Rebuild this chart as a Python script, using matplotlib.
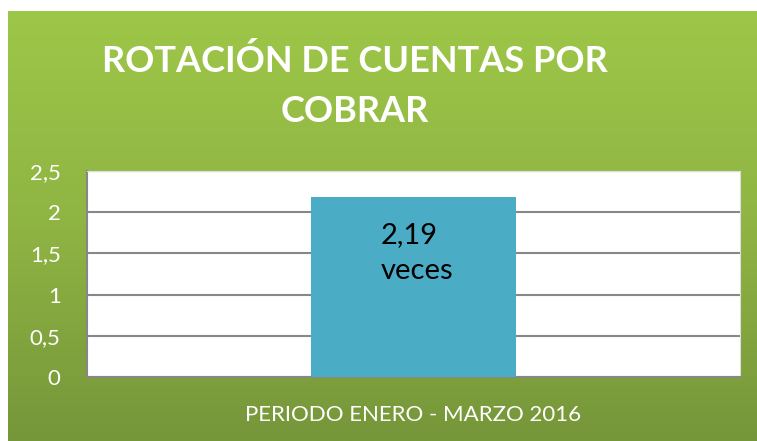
import matplotlib.pyplot as plt
import numpy as np
from matplotlib.colors import LinearSegmentedColormap

# datos
categorias = ["PERIODO ENERO - MARZO 2016"]
valores = [2.19]
etiqueta_barra = "2,19\nveces"
ticks_y = [0, 0.5, 1, 1.5, 2, 2.5]
ticks_y_txt = ["0", "0,5", "1", "1,5", "2", "2,5"]
titulo = ["ROTACIÓN DE CUENTAS POR", "COBRAR"]

W, H = 757, 441
fig = plt.figure(figsize=(W / 100, H / 100), dpi=100, facecolor="white")

# fondo verde con degradado
bg = fig.add_axes([8 / W, 0, 1 - 8 / W, (H - 11) / H])
verde = LinearSegmentedColormap.from_list("verde", ["#9dc748", "#8fb443", "#76963a"])
bg.imshow(np.linspace(0, 1, 256).reshape(-1, 1), aspect="auto", cmap=verde,
          extent=[0, 1, 0, 1], origin="upper")
bg.axis("off")

# titulo
fig.text(355 / W, 1 - 61 / H, titulo[0], color="white",
         fontsize=26, fontweight="bold", family="Lato", ha="center", va="center")
fig.text(355 / W, 1 - 111 / H, titulo[1], color="white",
         fontsize=26, fontweight="bold", family="Lato", ha="center", va="center")

# area del grafico
ax = fig.add_axes([87 / W, 1 - 377 / H, (740 - 87) / W, (377 - 171) / H])
ax.set_facecolor("white")
x = np.arange(len(categorias))
bars = ax.bar(x, valores, width=0.63, color="#4bacc6", zorder=3)
ax.set_xlim(-1, 1)
ax.set_ylim(0, 2.5)
ax.set_yticks(ticks_y)
ax.set_yticklabels(ticks_y_txt)
ax.set_xticks(x)
ax.set_xticklabels([])
ax.grid(axis="y", color="#878787", linewidth=1.5, zorder=1)
ax.tick_params(axis="y", length=0, pad=19, labelsize=16, labelcolor="white")
ax.tick_params(axis="x", length=0)
for lbl in ax.get_yticklabels():
    lbl.set_family("Lato")
for s in ["left", "bottom"]:
    ax.spines[s].set_color("#878787")
    ax.spines[s].set_linewidth(1.5)
for s in ["top", "right"]:
    ax.spines[s].set_color("#dddddd")
    ax.spines[s].set_linewidth(0.8)

ax.text(x[0] + 0.01, 1.88, etiqueta_barra, ha="center", va="top", multialignment="left",
        fontsize=21, family="Lato", color="black", linespacing=1.45, zorder=4)

ax.set_xlabel(categorias[0], color="white", fontsize=16, family="Lato", labelpad=17)

fig.savefig("out.png", dpi=100, facecolor="white")
